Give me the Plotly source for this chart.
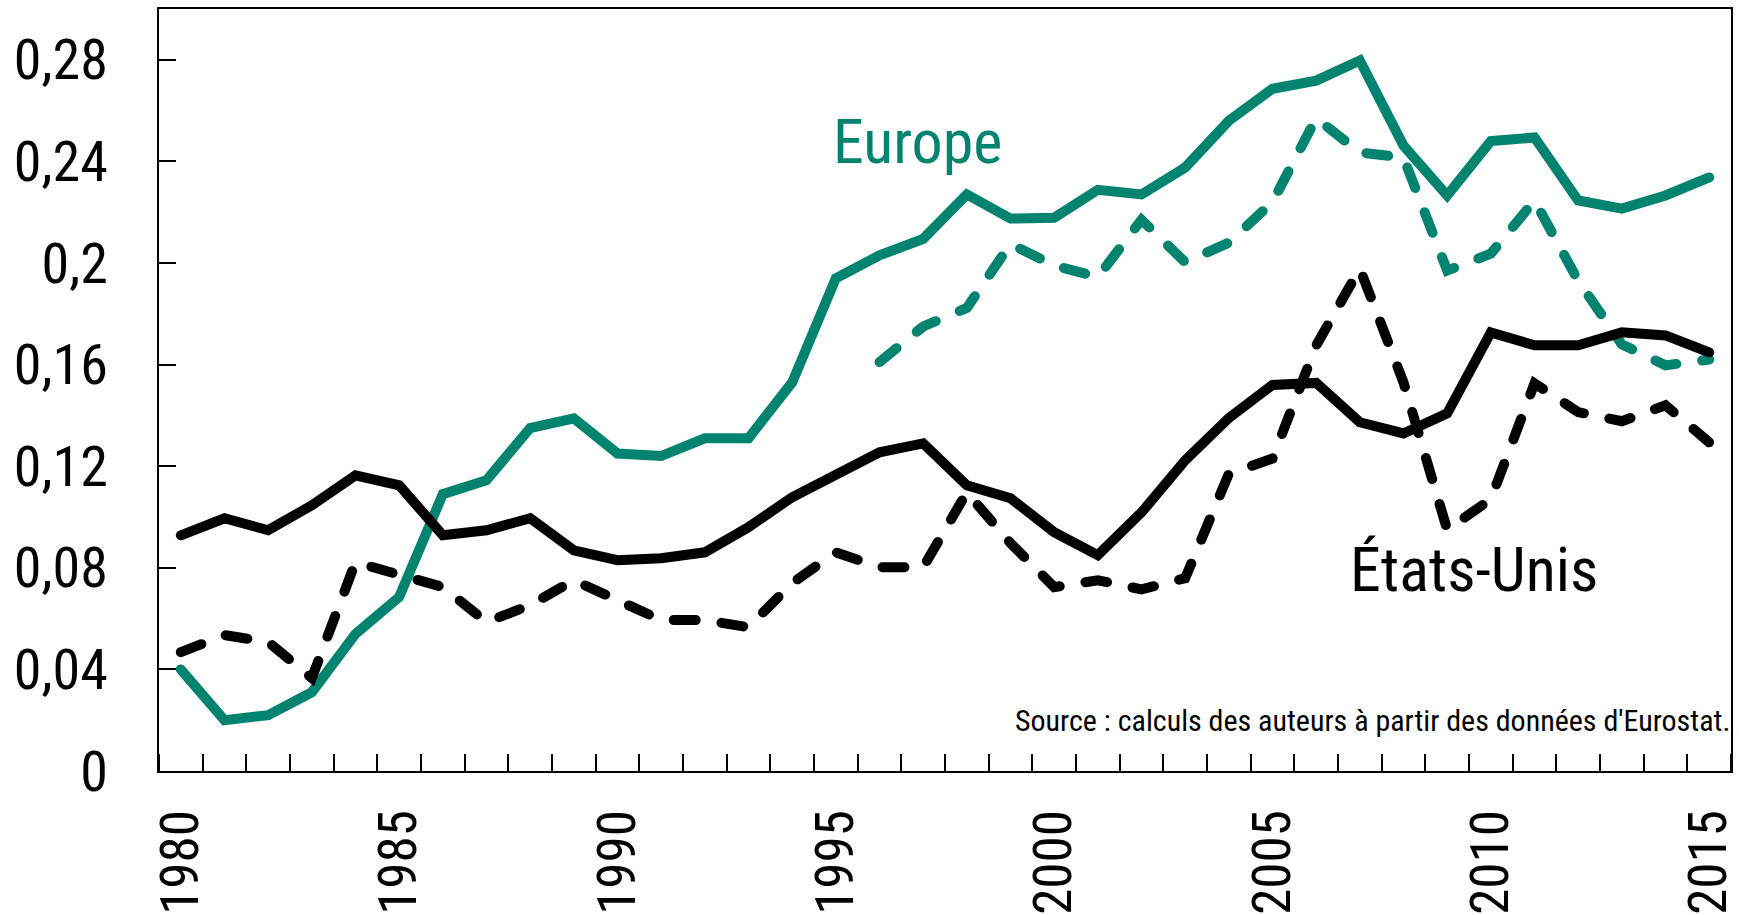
import plotly.graph_objects as go

years = list(range(1980, 2016))
europe = [0.040, 0.020, 0.022, 0.031, 0.054, 0.0685, 0.109, 0.1145, 0.135, 0.1388,
          0.125, 0.124, 0.131, 0.131, 0.153, 0.194, 0.203, 0.2095, 0.227, 0.2175,
          0.2178, 0.2288, 0.227, 0.2376, 0.256, 0.2686, 0.2718, 0.2797, 0.2462, 0.2266,
          0.248, 0.2494, 0.2246, 0.2214, 0.2266, 0.2337]
europe_dash_years = list(range(1996, 2016))
europe_dash = [0.161, 0.175, 0.1823, 0.2075, 0.199, 0.1945, 0.2170, 0.2003, 0.2080, 0.2240,
               0.257, 0.2435, 0.2415, 0.197, 0.2037, 0.2246, 0.193, 0.168, 0.1597, 0.162]
us = [0.0928, 0.0995, 0.0948, 0.1046, 0.1164, 0.1125, 0.0928, 0.0948, 0.0995, 0.0869,
      0.083, 0.0838, 0.0861, 0.096, 0.1078, 0.1172, 0.1255, 0.129, 0.1125, 0.1074,
      0.094, 0.085, 0.1018, 0.1223, 0.1390, 0.1520, 0.1528, 0.1373, 0.1329, 0.1408,
      0.1727, 0.1676, 0.1676, 0.1727, 0.1715, 0.1648]
us_dash = [0.0468, 0.0535, 0.0508, 0.0366, 0.0822, 0.0778, 0.0724, 0.0586, 0.0653, 0.0751,
           0.067, 0.0594, 0.0594, 0.0566, 0.074, 0.0861, 0.0802, 0.0802, 0.1097, 0.0897,
           0.0724, 0.0751, 0.0715, 0.0759, 0.117, 0.123, 0.1675, 0.1978, 0.153, 0.095,
           0.107, 0.1526, 0.1413, 0.1377, 0.144, 0.1294]

y_tickvals = [0, 0.04, 0.08, 0.12, 0.16, 0.20, 0.24, 0.28]
y_ticktext = ["0", "0,04", "0,08", "0,12", "0,16", "0,2", "0,24", "0,28"]
x_tickvals = [1980, 1985, 1990, 1995, 2000, 2005, 2010, 2015]
x_ticktext = [str(v) for v in x_tickvals]

label_europe = "Europe"
label_us = "États-Unis"
source_text = "Source : calculs des auteurs à partir des données d'Eurostat."

TEAL = "#00836F"
FONT = "Roboto Condensed, DejaVu Sans Condensed, sans-serif"
LW = 10
DASH = "22px,26px"

fig = go.Figure()
fig.add_trace(go.Scatter(x=years, y=europe, mode="lines",
                         line=dict(color=TEAL, width=LW), showlegend=False))
fig.add_trace(go.Scatter(x=europe_dash_years, y=europe_dash, mode="lines",
                         line=dict(color=TEAL, width=LW, dash=DASH), showlegend=False))
fig.add_trace(go.Scatter(x=years, y=us, mode="lines",
                         line=dict(color="black", width=LW), showlegend=False))
fig.add_trace(go.Scatter(x=years, y=us_dash, mode="lines",
                         line=dict(color="black", width=LW, dash=DASH), showlegend=False))

fig.update_layout(
    width=1739, height=915,
    margin=dict(l=159, r=8, t=9, b=144, autoexpand=False),
    paper_bgcolor="white", plot_bgcolor="white",
    font=dict(family=FONT, color="black"),
    xaxis=dict(
        range=[1979.5, 2015.5], showgrid=False, zeroline=False,
        showline=True, linecolor="black", linewidth=2, mirror=True,
        tickmode="array", tickvals=x_tickvals, ticktext=x_ticktext,
        ticks="", tickangle=-90, tickfont=dict(size=53, family=FONT, color="black"),
        ticklabelstandoff=16, ticklabeloverflow="allow",
        minor=dict(tick0=1979.5, dtick=1, ticks="inside", ticklen=17,
                   tickwidth=1.5, tickcolor="black", showgrid=False),
    ),
    yaxis=dict(
        range=[0, 0.30], showgrid=False, zeroline=False,
        showline=True, linecolor="black", linewidth=2, mirror=True,
        tickmode="array", tickvals=y_tickvals, ticktext=y_ticktext,
        ticks="inside", ticklen=17, tickwidth=1.5, tickcolor="black",
        tickfont=dict(size=56, family=FONT, color="black"),
        ticklabelstandoff=38, ticklabeloverflow="allow",
    ),
    annotations=[
        dict(text=label_europe, xref="paper", yref="paper",
             x=(917 - 158.6) / 1572.4, y=(771 - 141) / 762,
             xanchor="center", yanchor="middle", showarrow=False,
             font=dict(size=62, color=TEAL, family=FONT)),
        dict(text=label_us, xref="paper", yref="paper",
             x=(1474 - 158.6) / 1572.4, y=(771 - 569) / 762,
             xanchor="center", yanchor="middle", showarrow=False,
             font=dict(size=62, color="black", family=FONT)),
        dict(text=source_text, xref="paper", yref="paper",
             x=(1732 - 158.6) / 1572.4, y=(771 - 720) / 762,
             xanchor="right", yanchor="middle", showarrow=False,
             font=dict(size=30, color="black", family=FONT)),
    ],
)

post = ("var s=document.createElement('style');"
        "s.innerHTML='html,body{margin:0 !important;padding:0 !important;}"
        ".scatterlayer .js-line{stroke-linecap:round !important;}';"
        "document.head.appendChild(s);")
fig.write_html("out.html", post_script=post, config={"displayModeBar": False})
